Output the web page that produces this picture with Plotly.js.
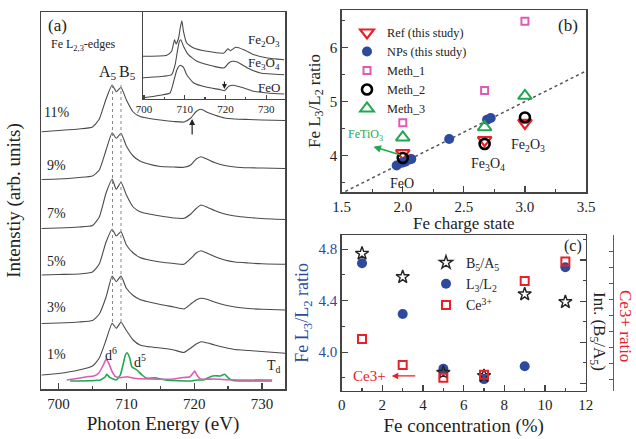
<!DOCTYPE html>
<html>
<head>
<meta charset="utf-8">
<script src="https://cdn.plot.ly/plotly-3.0.1.min.js"></script>
<style>html,body{margin:0;padding:0;background:#fff;}#chart{width:636px;height:439px;}</style>
</head>
<body>
<div id="chart"></div>
<script>
// ---------- Panel (a): Fe L2,3-edge spectra (arb. units) ----------
const energy = [697.5, 700, 703, 705, 706, 707, 707.9, 708.5, 709.2, 710, 711, 712, 713, 715, 717, 718.5, 719.5, 720.3, 721, 722, 723, 724.5, 726, 728, 730, 733.4];
const spec11 = [257.3, 258.5, 260, 262, 270, 290, 304, 297.3, 301.5, 289, 277, 272.5, 271, 269, 267.5, 267, 271, 277.5, 279.7, 276.5, 274, 271, 270, 269.5, 269, 268.5];
const spec9  = [209.5, 210, 211.5, 213, 219, 239, 256.3, 250.7, 255.7, 243, 233, 228, 225.5, 222.5, 222, 221.7, 224, 230, 232.3, 229.5, 226.5, 223.5, 222, 221.2, 221, 220.5];
const spec7  = [160.5, 161, 162, 163.5, 172, 196, 209.7, 199.7, 206.7, 194, 182, 177.3, 175.5, 173, 171, 170.7, 175, 180.5, 184, 181.5, 178.5, 175, 173, 171.5, 170.5, 169.5];
const spec5  = [114, 114.5, 115, 117, 125, 147, 159.7, 153, 157.3, 144, 136, 131.5, 129.5, 127, 125.5, 124.7, 130.5, 136, 138.3, 135.5, 132.5, 129, 127, 126, 125.2, 124.7];
const spec3  = [65.5, 66, 67, 68.5, 75, 92, 113, 107.3, 113, 100.7, 93.5, 89.5, 87.5, 84.5, 82, 80, 85, 89, 90.7, 89.5, 87, 84, 82, 80.5, 79.7, 79];
const spec1  = [14, 15.5, 19, 23, 31, 49, 65.7, 60.7, 66.7, 58.5, 49, 44, 42.5, 41, 39, 36.5, 41, 45, 47.3, 46, 44, 41.5, 39.5, 38.5, 37.5, 35.7];
const specLabels = ["11%", "9%", "7%", "5%", "3%", "1%"];
const specLabelY = [276, 224, 176, 128, 82, 35];

const d6E = [701.2, 703.4, 704.2, 705.2, 705.9, 706.6, 707.0, 707.4, 707.9, 708.4, 709.1, 710.1, 711.1, 713.5, 717, 718, 719.4, 719.8, 720.1, 720.4, 720.9, 722.9, 724.8, 731.5];
const d6V = [9, 11.3, 12.3, 13, 15.7, 24, 29.7, 25.7, 17.3, 12.3, 11.3, 12.3, 10.7, 10, 10, 11.3, 12.3, 15.7, 18, 14, 10, 10, 9.3, 9];
const d5E = [701.7, 706.15, 706.9, 707.1, 707.6, 708.5, 709.1, 709.5, 709.85, 710.1, 710.5, 710.8, 711.55, 712.3, 713.0, 714.25, 715.0, 716, 719.4, 720.4, 721.4, 722.4, 723.1, 723.85, 724.5, 725.0, 725.6, 726.8, 731.5];
const d5V = [8, 9, 12.3, 14.7, 11.3, 9, 14, 24, 34, 36.3, 30.7, 22.3, 19, 14, 10.7, 11.3, 10, 8.7, 8, 9, 9, 12.3, 13.3, 13, 14.7, 11.3, 8.7, 8, 8];
const peakGuideE = [707.95, 709.2];
const peakGuideV = [67, 304];

// inset reference spectra
const feoE = [699.4, 704.0, 706.4, 707.2, 708.1, 708.9, 709.7, 710.5, 712.2, 715.5, 718.8, 719.75, 720.8, 722, 724.5, 727, 730.3, 734.4];
const feoV = [2, 4.7, 7, 17, 30.3, 34.7, 32.7, 25.3, 17, 12.7, 10.3, 9.3, 13.7, 14.7, 12, 8.7, 7, 6];
const fe3o4E = [699.4, 704.8, 706.8, 707.65, 708.2, 708.7, 709.05, 709.7, 710.9, 713, 717.1, 719.6, 720.8, 721.65, 722.9, 725.4, 728.6, 734.4];
const fe3o4V = [22, 23.7, 25.3, 35.3, 48.7, 58.7, 60.3, 53.7, 45.3, 38.7, 33.7, 32, 37, 38.7, 38, 32, 27, 25.3];
const fe2o3E = [699.4, 705.6, 706.8, 707.5, 707.9, 708.5, 708.9, 709.3, 709.7, 710.5, 712.2, 715.5, 719.6, 720.6, 721.2, 722.5, 724.5, 727, 730.3, 734.4];
const fe2o3V = [43.7, 44.7, 48.7, 60.3, 56, 62, 72, 79.3, 68.7, 57, 52, 48.7, 47, 51.3, 49.3, 52.7, 50.3, 45.3, 42, 40.3];

// ---------- Panel (b): L3/L2 ratio vs charge state ----------
const refX = [2.0, 2.67, 3.0],  refY = [4.04, 4.28, 4.60];
const npX = [1.95, 1.99, 2.02, 2.05, 2.07, 2.38, 2.69, 2.72];
const npY = [3.81, 3.86, 3.88, 3.92, 3.93, 4.30, 4.66, 4.69];
const m1X = [2.0, 2.67, 3.0],  m1Y = [4.6, 5.2, 6.48];
const m2X = [2.0, 2.67, 3.0],  m2Y = [3.95, 4.21, 4.70];
const m3X = [2.0, 2.67, 3.0],  m3Y = [4.33, 4.52, 5.1];
const fitX = [1.53, 3.5], fitY = [3.33, 5.56];

// ---------- Panel (c): vs Fe concentration ----------
const conc = [1, 3, 5, 7, 9, 11];
const l3l2 = [4.69, 4.296, 3.87, 3.79, 3.89, 4.66];
const b5a5 = [1.316, 1.259, 1.026, 1.018, 1.217, 1.198];
const ce3  = [0.356, 0.194, 0.114, 0.133, 0.717, 0.838];

// ---------- styling ----------
const W = 636, H = 439;
const PX = p => p / W, PY = p => 1 - p / H;
const SERIF = 'Liberation Serif, Times New Roman, Times, serif';
const GREY = '#4a4a4a', AX = '#444';
const BLUE = '#2e4a9e', RED = '#e8202a', PINK = '#dd5bb5', GREEN = '#1fa84f';

const specLine = {color: GREY, width: 1.1, shape: 'spline', smoothing: 0.5};
const traces = [];
[spec11, spec9, spec7, spec5, spec3, spec1].forEach(s => {
  traces.push({x: energy, y: s, mode: 'lines', line: specLine, xaxis: 'x', yaxis: 'y', showlegend: false, hoverinfo: 'skip'});
});
peakGuideE.forEach(e => {
  traces.push({x: [e, e], y: peakGuideV, mode: 'lines', line: {color: '#888', width: 1, dash: 'dot'}, xaxis: 'x', yaxis: 'y', showlegend: false});
});
traces.push({x: d5E, y: d5V, mode: 'lines', line: {color: GREEN, width: 1.6, shape: 'spline', smoothing: 0.4}, xaxis: 'x', yaxis: 'y', showlegend: false});
traces.push({x: d6E, y: d6V, mode: 'lines', line: {color: PINK, width: 1.6, shape: 'spline', smoothing: 0.4}, xaxis: 'x', yaxis: 'y', showlegend: false});
[[fe2o3E, fe2o3V], [fe3o4E, fe3o4V], [feoE, feoV]].forEach(([e, v]) => {
  traces.push({x: e, y: v, mode: 'lines', line: {color: GREY, width: 1.1, shape: 'spline', smoothing: 0.5}, xaxis: 'x2', yaxis: 'y2', showlegend: false});
});

// panel b
traces.push({x: fitX, y: fitY, mode: 'lines', line: {color: '#555', width: 1.5, dash: 'dot'}, xaxis: 'x3', yaxis: 'y3', showlegend: false});
traces.push({name: 'Ref (this study)', x: refX, y: refY, mode: 'markers', marker: {symbol: 'triangle-down-open', size: 12, color: RED, line: {width: 2.2, color: RED}}, xaxis: 'x3', yaxis: 'y3', legend: 'legend'});
traces.push({name: 'NPs (this study)', x: npX, y: npY, mode: 'markers', marker: {symbol: 'circle', size: 10, color: BLUE}, xaxis: 'x3', yaxis: 'y3', legend: 'legend'});
traces.push({name: 'Meth_1', x: m1X, y: m1Y, mode: 'markers', marker: {symbol: 'square-open', size: 7, color: PINK, line: {width: 2, color: PINK}}, xaxis: 'x3', yaxis: 'y3', legend: 'legend'});
traces.push({name: 'Meth_2', x: m2X, y: m2Y, mode: 'markers', marker: {symbol: 'circle-open', size: 10, color: '#000', line: {width: 2.6, color: '#000'}}, xaxis: 'x3', yaxis: 'y3', legend: 'legend'});
traces.push({name: 'Meth_3', x: m3X, y: m3Y, mode: 'markers', marker: {symbol: 'triangle-up-open', size: 12, color: GREEN, line: {width: 2, color: GREEN}}, xaxis: 'x3', yaxis: 'y3', legend: 'legend'});

// panel c
traces.push({name: 'B<sub>5</sub>/A<sub>5</sub>', x: conc, y: b5a5, mode: 'markers', marker: {symbol: 'star-open', size: 10, color: '#222', line: {width: 1.4, color: '#222'}}, xaxis: 'x4', yaxis: 'y5', legend: 'legend2'});
traces.push({name: 'L<sub>3</sub>/L<sub>2</sub>', x: conc, y: l3l2, mode: 'markers', marker: {symbol: 'circle', size: 10, color: BLUE}, xaxis: 'x4', yaxis: 'y4', legend: 'legend2'});
traces.push({name: 'Ce<sup>3+</sup>', x: conc, y: ce3, mode: 'markers', marker: {symbol: 'square-open', size: 8, color: RED, line: {width: 2, color: RED}}, xaxis: 'x4', yaxis: 'y6', legend: 'legend2'});

const baseAxis = {showgrid: false, zeroline: false, showline: true, linecolor: AX, linewidth: 1.5, mirror: true,
  ticks: 'inside', ticklen: 6, tickwidth: 1.2, tickcolor: AX, tickfont: {family: SERIF, size: 15, color: '#222'}};
const minor = (d) => ({dtick: d, ticks: 'inside', ticklen: 3, tickcolor: AX, showgrid: false});

const ann = [];
const txt = (x, y, text, size, opts = {}) => ann.push({xref: 'paper', yref: 'paper', x: PX(x), y: PY(y), text: text, showarrow: false,
  font: {family: SERIF, size: size, color: opts.color || '#222'}, xanchor: opts.xanchor || 'center', yanchor: 'middle', textangle: opts.angle || 0});
// panel a labels
txt(58, 25, '(a)', 17);
txt(49, 45, 'Fe L<sub>2,3</sub>-edges', 12, {xanchor: 'left'});
txt(108, 72, 'A<sub>5</sub>', 16);
txt(127, 73, 'B<sub>5</sub>', 16);
specLabels.forEach((t, i) => ann.push({xref: 'paper', yref: 'y', x: PX(57), y: specLabelY[i], text: t, showarrow: false,
  font: {family: SERIF, size: 14, color: '#222'}, xanchor: 'center', yanchor: 'middle'}));
txt(111, 354, 'd<sup>6</sup>', 14);
txt(140, 361, 'd<sup>5</sup>', 14);
txt(274, 366, 'T<sub>d</sub>', 14);
txt(282, 40, 'Fe<sub>2</sub>O<sub>3</sub>', 13, {xanchor: 'right'});
txt(282, 64, 'Fe<sub>3</sub>O<sub>4</sub>', 13, {xanchor: 'right'});
txt(282, 87, 'FeO', 13, {xanchor: 'right'});
ann.push({xref: 'x', yref: 'y', axref: 'x', ayref: 'y', x: 719.7, y: 270, ax: 719.7, ay: 253, text: '', showarrow: true, arrowhead: 2, arrowsize: 1, arrowwidth: 1.2, arrowcolor: '#222'});
ann.push({xref: 'x2', yref: 'y2', axref: 'x2', ayref: 'y2', x: 719.75, y: 11, ax: 719.75, ay: 20, text: '', showarrow: true, arrowhead: 2, arrowsize: 0.9, arrowwidth: 1.1, arrowcolor: '#222'});
// panel b labels
txt(568, 25, '(b)', 17);
txt(402, 183, 'FeO', 14);
txt(488, 165, 'Fe<sub>3</sub>O<sub>4</sub>', 14);
txt(528, 145, 'Fe<sub>2</sub>O<sub>3</sub>', 14);
txt(365, 135, 'FeTiO<sub>3</sub>', 12, {color: GREEN});
ann.push({xref: 'x3', yref: 'y3', axref: 'x3', ayref: 'y3', x: 1.76, y: 4.16, ax: 1.99, ay: 4.0, text: '', showarrow: true, arrowhead: 2, arrowsize: 1, arrowwidth: 1.5, arrowcolor: GREEN});
// panel c labels
txt(573, 246, '(c)', 16);
ann.push({xref: 'x4', yref: 'y4', x: 2.3, y: 3.815, text: 'Ce3+', showarrow: false, xanchor: 'right', yanchor: 'middle', font: {family: SERIF, size: 15, color: RED}});
ann.push({xref: 'x4', yref: 'y4', axref: 'x4', ayref: 'y4', x: 2.46, y: 3.815, ax: 3.69, ay: 3.815, text: '', showarrow: true, arrowhead: 2, arrowsize: 1, arrowwidth: 1.3, arrowcolor: RED});
txt(598, 331, 'Int. (B<sub>5</sub>/A<sub>5</sub>)', 17, {angle: 90});
txt(626, 326, 'Ce3+ ratio', 17, {angle: 90, color: RED});

const layout = {
  width: W, height: H, margin: {l: 0, r: 0, t: 0, b: 0},
  paper_bgcolor: '#fff', plot_bgcolor: 'rgba(0,0,0,0)',
  font: {family: SERIF, color: '#222'},
  xaxis: Object.assign({}, baseAxis, {domain: [PX(41), PX(285)], anchor: 'y', range: [697.4, 733.4], tick0: 700, dtick: 10, minor: minor(5),
    title: {text: 'Photon Energy (eV)', font: {family: SERIF, size: 19}, standoff: 6}}),
  yaxis: Object.assign({}, baseAxis, {domain: [PY(389), PY(12)], anchor: 'x', range: [0, 377], ticks: '', showticklabels: false,
    title: {text: 'Intenstiy (arb. units)', font: {family: SERIF, size: 19}, standoff: 14}}),
  xaxis2: Object.assign({}, baseAxis, {domain: [PX(142.7), PX(285)], anchor: 'y2', range: [699.7, 734.6], tick0: 700, dtick: 10, ticklen: 4, minor: {dtick: 5, ticks: 'inside', ticklen: 2, tickcolor: AX},
    tickfont: {family: SERIF, size: 11, color: '#222'}, linewidth: 1.2}),
  yaxis2: Object.assign({}, baseAxis, {domain: [PY(99), PY(12)], anchor: 'x2', range: [1, 88], ticks: '', showticklabels: false, linewidth: 1.2}),
  xaxis3: Object.assign({}, baseAxis, {domain: [PX(341.7), PX(586)], anchor: 'y3', range: [1.5, 3.5], tick0: 1.5, dtick: 0.5, tickformat: '.1f', minor: minor(0.25),
    title: {text: 'Fe charge state', font: {family: SERIF, size: 17}, standoff: 2}}),
  yaxis3: Object.assign({}, baseAxis, {domain: [PY(192), PY(10)], anchor: 'x3', range: [3.32, 6.69], tick0: 4, dtick: 1, minor: minor(0.5),
    title: {text: 'Fe L<sub>3</sub>/L<sub>2</sub> ratio', font: {family: SERIF, size: 17}, standoff: 5}}),
  xaxis4: Object.assign({}, baseAxis, {domain: [PX(341.7), PX(585.7)], anchor: 'y4', range: [0, 12], tick0: 0, dtick: 2, minor: minor(1),
    title: {text: 'Fe concentration (%)', font: {family: SERIF, size: 19}, standoff: 6}}),
  yaxis4: Object.assign({}, baseAxis, {domain: [PY(390.7), PY(235)], anchor: 'x4', range: [3.70, 4.91], tick0: 4.0, dtick: 0.4, tickformat: '.1f', minor: minor(0.2),
    tickfont: {family: SERIF, size: 15, color: BLUE},
    title: {text: 'Fe L<sub>3</sub>/L<sub>2</sub> ratio', font: {family: SERIF, size: 18, color: BLUE}, standoff: 5}}),
  yaxis5: Object.assign({}, baseAxis, {overlaying: 'y4', side: 'right', anchor: 'x4', range: [0.982, 1.361], tick0: 1.0, dtick: 0.1, minor: minor(0.05),
    showticklabels: false, mirror: false}),
  yaxis6: {overlaying: 'y4', side: 'right', anchor: 'free', position: PX(613), range: [0.033, 1.004], tick0: 0, dtick: 0.1,
    showgrid: false, zeroline: false, showline: true, linecolor: RED, linewidth: 1.2, ticks: 'inside', ticklen: 4, tickcolor: RED, showticklabels: false},
  legend: {x: PX(347), y: PY(18), xanchor: 'left', yanchor: 'top', bgcolor: 'rgba(0,0,0,0)', borderwidth: 0,
    font: {family: SERIF, size: 12.3, color: '#222'}, tracegroupgap: 0},
  legend2: {x: PX(426), y: PY(247), xanchor: 'left', yanchor: 'top', bgcolor: 'rgba(0,0,0,0)', borderwidth: 0,
    font: {family: SERIF, size: 14, color: '#222'}, tracegroupgap: 0},
  annotations: ann,
  showlegend: true
};

Plotly.newPlot('chart', traces, layout, {displayModeBar: false, staticPlot: true});
</script>
</body>
</html>
